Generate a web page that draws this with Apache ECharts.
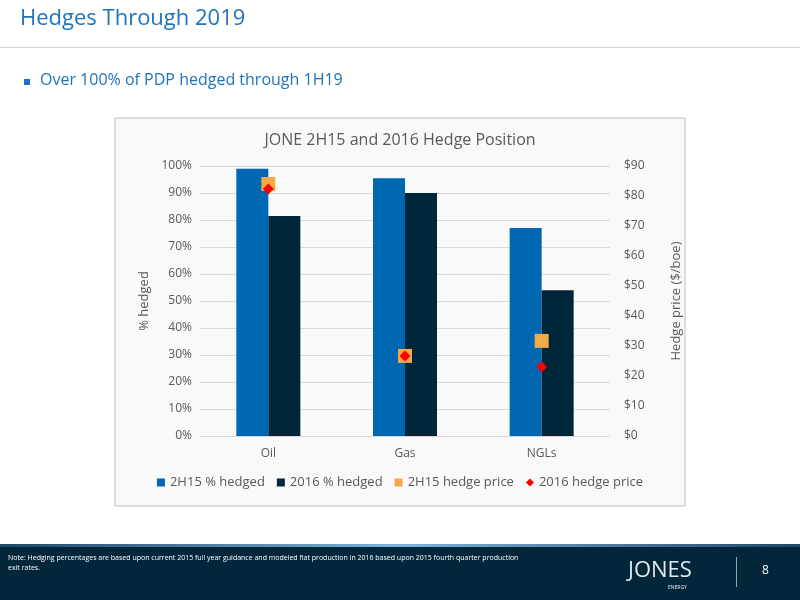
<!DOCTYPE html>
<html><head><meta charset="utf-8">
<script src="https://cdn.jsdelivr.net/npm/echarts@6/dist/echarts.min.js"></script>
<style>html,body{margin:0;padding:0;background:#fff}#c{width:800px;height:600px}</style>
</head><body><div id="c"></div>
<script>
var categories = ['Oil', 'Gas', 'NGLs'];
var pct2H15 = [99, 95.5, 77];
var pct2016 = [81.5, 90, 54];
var price2H15 = [84, 26.7, 31.7];
var price2016 = [82.3, 26.7, 23];

var chart = echarts.init(document.getElementById('c'));
var font = 'Open Sans';
var option = {
    backgroundColor: '#fff',
    textStyle: { fontFamily: font },
    graphic: [
        { type: 'text', left: 20, top: 8, style: { text: 'Hedges Through 2019', fill: '#1e73be', font: '22px "Open Sans"' } },
        { type: 'rect', shape: { x: 0, y: 47, width: 800, height: 1 }, style: { fill: '#c8d3de' } },
        { type: 'rect', shape: { x: 24, y: 79, width: 6, height: 6 }, style: { fill: '#1e73be' } },
        { type: 'text', left: 40, top: 72, style: { text: 'Over 100% of PDP hedged through 1H19', fill: '#1e73be', font: '16px "Open Sans"' } },
        { type: 'rect', z: -10, shape: { x: 115, y: 118, width: 570, height: 388 }, style: { fill: '#f9f9f9', stroke: '#bfbfbf', lineWidth: 1 } },
        { type: 'rect', shape: { x: 0, y: 544, width: 800, height: 56 }, style: { fill: '#04263a' } },
        { type: 'rect', shape: { x: 0, y: 544, width: 800, height: 3 }, style: { fill: new echarts.graphic.LinearGradient(0, 0, 1, 0, [{ offset: 0, color: '#1a4a6a' }, { offset: 0.5, color: '#7fb3d9' }, { offset: 1, color: '#1a4a6a' }]) } },
        { type: 'text', left: 8, top: 553, style: { text: 'Note: Hedging percentages are based upon current 2015 full year guidance and modeled flat production in 2016 based upon 2015 fourth quarter production\nexit rates.', fill: '#fff', font: '7px "Liberation Sans Narrow", "Open Sans"', lineHeight: 10 } },
        { type: 'text', left: 628, top: 560, style: { text: 'JONES', fill: '#dfe8ef', font: '22px "Open Sans"' } },
        { type: 'text', left: 668, top: 585, style: { text: 'ENERGY', fill: '#dfe8ef', font: '5px "Open Sans"' } },
        { type: 'rect', shape: { x: 736, y: 557, width: 1, height: 30 }, style: { fill: '#8aa' } },
        { type: 'text', left: 762, top: 565, style: { text: '8', fill: '#fff', font: '12px "Open Sans"' } }
    ],
    title: {
        text: 'JONE 2H15 and 2016 Hedge Position', left: 'center', top: 127,
        textStyle: { color: '#595959', fontSize: 16, fontWeight: 'normal', fontFamily: font }
    },
    legend: {
        bottom: 106, itemWidth: 8, itemHeight: 8, itemGap: 12,
        textStyle: { color: '#595959', fontSize: 13 },
        data: [
            { name: '2H15 % hedged', icon: 'rect' },
            { name: '2016 % hedged', icon: 'rect' },
            { name: '2H15 hedge price', icon: 'rect' },
            { name: '2016 hedge price', icon: 'diamond' }
        ]
    },
    grid: { left: 200, right: 190, top: 166, bottom: 164 },
    xAxis: {
        type: 'category', data: categories,
        axisLine: { lineStyle: { color: '#d9d9d9' } }, axisTick: { show: false },
        axisLabel: { color: '#595959', fontSize: 12, margin: 12 }
    },
    yAxis: [{
        type: 'value', min: 0, max: 100, interval: 10, name: '% hedged',
        nameLocation: 'middle', nameGap: 46, nameTextStyle: { color: '#595959', fontSize: 13 },
        axisLabel: { color: '#595959', fontSize: 12, formatter: '{value}%' },
        splitLine: { lineStyle: { color: '#d9d9d9' } }
    }, {
        type: 'value', min: 0, max: 90, interval: 10, name: 'Hedge price ($/boe)',
        nameLocation: 'middle', nameGap: 60, nameRotate: 90, nameTextStyle: { color: '#595959', fontSize: 13 },
        axisLabel: { color: '#595959', fontSize: 12, formatter: '${value}', margin: 14 },
        splitLine: { show: false }
    }],
    series: [
        { name: '2H15 % hedged', type: 'bar', data: pct2H15, barWidth: 32, barGap: '0%', itemStyle: { color: '#0068b3' } },
        { name: '2016 % hedged', type: 'bar', data: pct2016, barWidth: 32, itemStyle: { color: '#00263a' } },
        { name: '2H15 hedge price', type: 'scatter', yAxisIndex: 1, data: price2H15, symbol: 'rect', symbolSize: 14, itemStyle: { color: '#f5a947', opacity: 1 } },
        { name: '2016 hedge price', type: 'scatter', yAxisIndex: 1, data: price2016, symbol: 'diamond', symbolSize: 11, itemStyle: { color: '#ff0000', opacity: 1 }, z: 5 }
    ]
};
chart.setOption(option);
</script></body></html>
